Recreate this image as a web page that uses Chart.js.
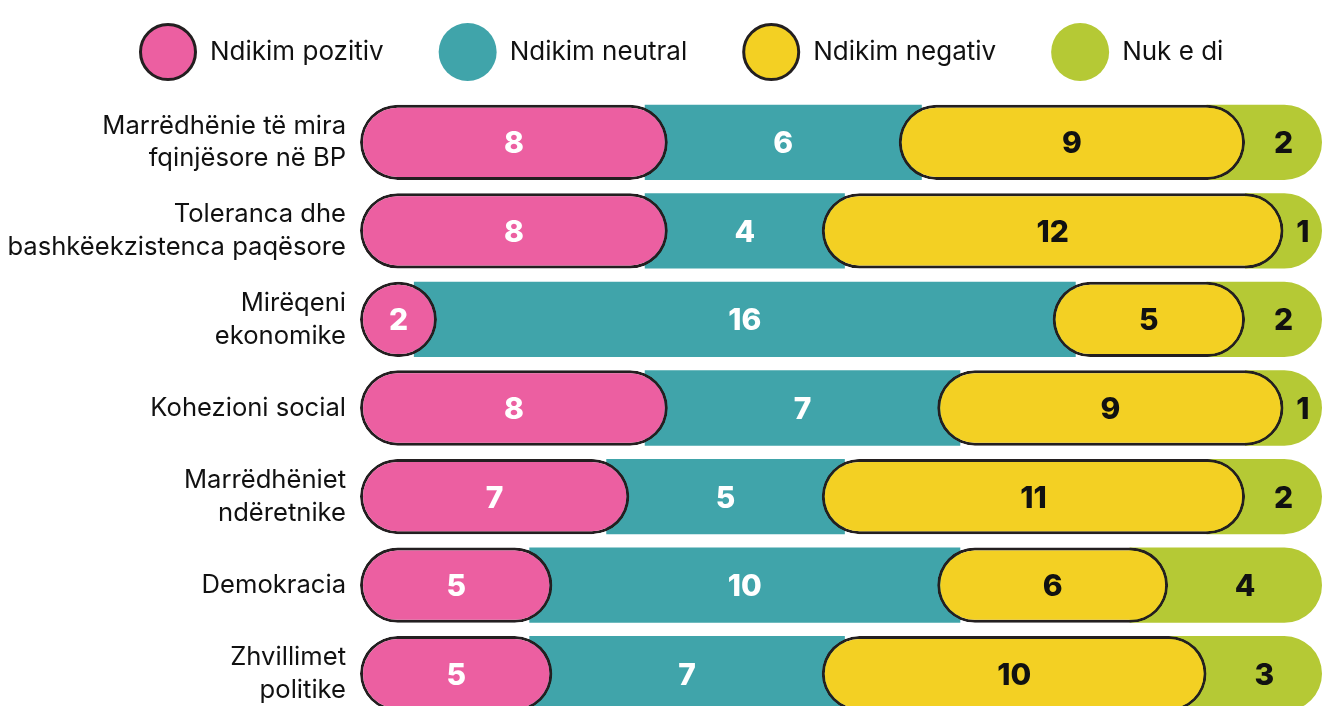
<!DOCTYPE html>
<html><head><meta charset="utf-8">
<script src="https://cdn.jsdelivr.net/npm/chart.js@4/dist/chart.umd.min.js"></script>
<style>
html,body{margin:0;padding:0;overflow:hidden;background:#fff;}
#wrap{position:relative;width:1326px;height:722px;overflow:hidden;}
canvas{display:block;}
</style></head><body><div id="wrap"><canvas id="c" width="1326" height="722"></canvas></div>
<script>
// ---- data ----
const categories = [
  ['Marrëdhënie të mira', 'fqinjësore në BP'],
  ['Toleranca dhe', 'bashkëekzistenca paqësore'],
  ['Mirëqeni', 'ekonomike'],
  'Kohezioni social',
  ['Marrëdhëniet', 'ndëretnike'],
  'Demokracia',
  ['Zhvillimet', 'politike']
];
const seriesNames = ['Ndikim pozitiv', 'Ndikim neutral', 'Ndikim negativ', 'Nuk e di'];
const pozitiv = [8, 8, 2, 8, 7, 5, 5];
const neutral = [6, 4, 16, 7, 5, 10, 7];
const negativ = [9, 12, 5, 9, 11, 6, 10];
const nukEDi  = [2, 1, 2, 1, 2, 4, 3];
const xMax = 25;

// ---- styles ----
const COL = ['#EC5FA1', '#40A4AA', '#F3D023', '#B5C935'];
const TXT = ['#ffffff', '#ffffff', '#111111', '#111111'];
const BORDER = '#231F20';
const FONT = 'Inter, "Noto Sans", Arial, sans-serif';

const series = [pozitiv, neutral, negativ, nukEDi];
// floating ranges built from the values (neutral / unknown slide under the rounded neighbours)
const EXT_T = 0.6, EXT_G = 1;
const pinkR = pozitiv.map(v => [0, v]);
const tealR = pozitiv.map((p, i) => [p - EXT_T, p + neutral[i] + EXT_T]);
const yellowR = pozitiv.map((p, i) => [p + neutral[i], p + neutral[i] + negativ[i]]);
const greenR = pozitiv.map((p, i) => {
  const s = p + neutral[i] + negativ[i];
  return [s - EXT_G, s + nukEDi[i]];
});

const valueLabels = {
  id: 'valueLabels',
  afterDatasetsDraw(chart) {
    const ctx = chart.ctx, xs = chart.scales.x, ys = chart.scales.y;
    ctx.save();
    ctx.font = '800 30px ' + FONT;
    ctx.textAlign = 'center';
    ctx.textBaseline = 'middle';
    categories.forEach((c, i) => {
      let start = 0;
      series.forEach((arr, s) => {
        const v = arr[i];
        const x = xs.getPixelForValue(start + v / 2);
        const y = ys.getPixelForValue(i);
        ctx.fillStyle = TXT[s];
        ctx.fillText(String(v), x, y + 2);
        start += v;
      });
    });
    ctx.restore();
  }
};

const topLegend = {
  id: 'topLegend',
  afterDraw(chart, args, opts) {
    const ctx = chart.ctx;
    ctx.save();
    ctx.font = '26px ' + FONT;
    ctx.textBaseline = 'middle';
    ctx.textAlign = 'left';
    let x = opts.startX;
    const d = opts.size, cy = opts.y;
    chart.data.datasets.forEach((ds) => {
      ctx.beginPath();
      ctx.arc(x + d / 2, cy, d / 2 - (ds.borderWidth ? ds.borderWidth / 2 : 0), 0, Math.PI * 2);
      ctx.fillStyle = ds.backgroundColor;
      ctx.fill();
      if (ds.borderWidth) {
        ctx.lineWidth = ds.borderWidth;
        ctx.strokeStyle = ds.borderColor;
        ctx.stroke();
      }
      x += d + opts.gap;
      ctx.fillStyle = '#111';
      ctx.fillText(ds.label, x, cy);
      x += ctx.measureText(ds.label).width + opts.itemGap;
    });
    ctx.restore();
  }
};

const common = {
  borderSkipped: false,
  grouped: false,
  barPercentage: 0.85,
  categoryPercentage: 1
};

new Chart(document.getElementById('c'), {
  type: 'bar',
  data: {
    labels: categories,
    datasets: [
      Object.assign({ label: seriesNames[0], data: pinkR, backgroundColor: COL[0], borderColor: BORDER, borderWidth: 3, borderRadius: 40, order: 1 }, common),
      Object.assign({ label: seriesNames[1], data: tealR, backgroundColor: COL[1], borderWidth: 0, borderRadius: 0, order: 2 }, common),
      Object.assign({ label: seriesNames[2], data: yellowR, backgroundColor: COL[2], borderColor: BORDER, borderWidth: 3, borderRadius: 40, order: 1 }, common),
      Object.assign({ label: seriesNames[3], data: greenR, backgroundColor: COL[3], borderWidth: 0,
        borderRadius: { topLeft: 0, bottomLeft: 0, topRight: 40, bottomRight: 40 }, order: 3 }, common)
    ]
  },
  options: {
    indexAxis: 'y',
    responsive: false,
    animation: false,
    layout: { padding: { top: 98, right: 4, bottom: 4, left: 0 } },
    plugins: {
      legend: { display: false },
      tooltip: { enabled: false },
      topLegend: { startX: 139, y: 52, size: 58, gap: 13, itemGap: 55 }
    },
    scales: {
      x: { min: 0, max: xMax, display: false },
      y: {
        grid: { display: false, drawTicks: false },
        border: { display: false },
        ticks: { font: { family: FONT, size: 25.6, lineHeight: 1.28 }, color: '#111', padding: 14 },
        afterFit(axis) { axis.width = 360; axis.paddingTop = 0; axis.paddingBottom = 0; }
      }
    }
  },
  plugins: [valueLabels, topLegend]
});
</script>
</body></html>
